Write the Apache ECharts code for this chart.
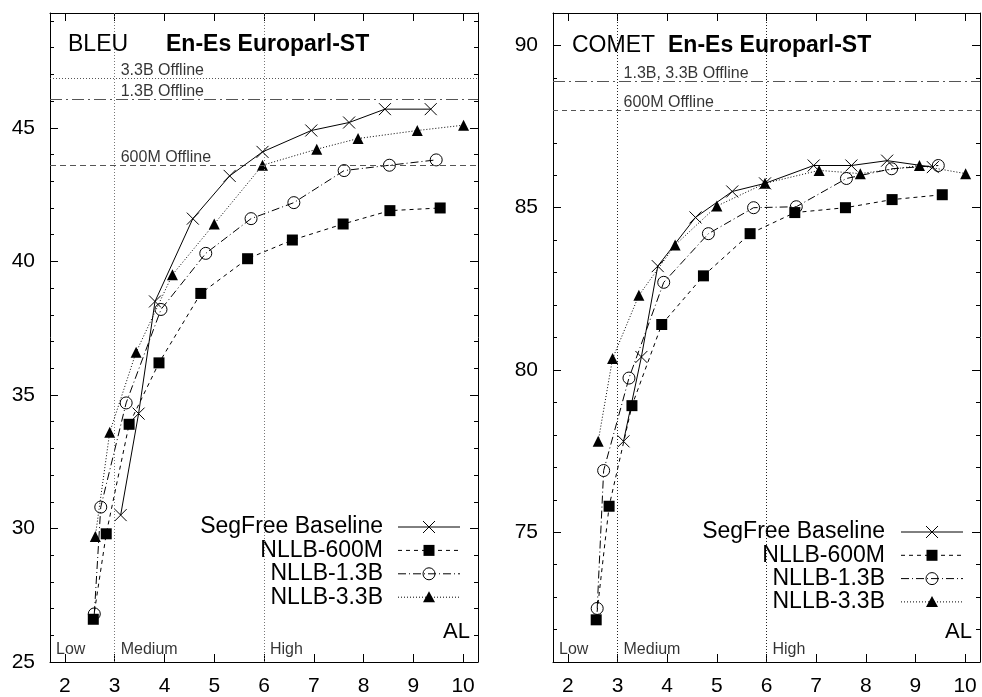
<!DOCTYPE html>
<html><head><meta charset="utf-8">
<script src="https://cdn.jsdelivr.net/npm/echarts@6/dist/echarts.min.js"></script>
<style>html,body{margin:0;padding:0;background:#fff}#c{width:982px;height:697px}</style>
</head><body><div id="c"></div>
<script>
// ---------- data ----------
const seriesNames = ['SegFree Baseline', 'NLLB-600M', 'NLLB-1.3B', 'NLLB-3.3B'];
// Average lagging (AL) of each system
const alSeg  = [3.12, 3.48, 3.81, 4.57, 5.31, 5.97, 6.95, 7.71, 8.43, 9.35];
const al600  = [2.57, 2.83, 3.29, 3.89, 4.73, 5.67, 6.57, 7.59, 8.53, 9.54];
const al13   = [2.59, 2.72, 3.23, 3.93, 4.83, 5.74, 6.60, 7.61, 8.52, 9.46];
const al33   = [2.61, 2.90, 3.43, 4.16, 5.00, 5.97, 7.06, 7.89, 9.08, 10.01];
// BLEU
const bleuSeg = [30.5, 34.3, 38.5, 41.6, 43.2, 44.1, 44.9, 45.2, 45.7, 45.7];
const bleu600 = [26.6, 29.8, 33.9, 36.2, 38.8, 40.1, 40.8, 41.4, 41.9, 42.0];
const bleu13  = [26.8, 30.8, 34.7, 38.2, 40.3, 41.6, 42.2, 43.4, 43.6, 43.8];
const bleu33  = [29.7, 33.6, 36.6, 39.5, 41.4, 43.6, 44.2, 44.6, 44.9, 45.1];
// COMET
const cometSeg = [77.8, 80.4, 83.2, 84.7, 85.5, 85.75, 86.3, 86.3, 86.45, 86.25];
const comet600 = [72.3, 75.8, 78.9, 81.4, 82.9, 84.2, 84.85, 85.0, 85.25, 85.4];
const comet13  = [72.65, 76.9, 79.75, 82.7, 84.2, 85.0, 85.03, 85.9, 86.2, 86.3];
const comet33  = [77.8, 80.35, 82.3, 83.85, 85.05, 85.75, 86.15, 86.05, 86.3, 86.05];
// offline references
const bleuOfflineNames = ['3.3B Offline', '1.3B Offline', '600M Offline'];
const bleuOffline = [46.86, 46.07, 43.59];
const cometOfflineNames = ['1.3B, 3.3B Offline', '600M Offline'];
const cometOffline = [88.9, 88.0];
// latency regions
const regionNames = ['Low', 'Medium', 'High'];
const regionStart = [1.7, 3, 6];
const regionBounds = [3, 6];
// axes
const xTicks = [2, 3, 4, 5, 6, 7, 8, 9, 10];
const bleuTicks = [25, 30, 35, 40, 45];
const bleuMinor = [26,27,28,29,31,32,33,34,36,37,38,39,41,42,43,44,46,47,48,49];
const cometTicks = [75, 80, 85, 90];
const cometMinor = [71,72,73,74,76,77,78,79,81,82,83,84,86,87,88,89,91];
const xRange = [1.7, 10.3];
const bleuRange = [25, 49.3];
const cometRange = [71, 91];

// ---------- styling ----------
const FONT = '"Liberation Sans", Arial, Helvetica, sans-serif';
const zip = (xs, ys) => xs.map((x, i) => [x, ys[i]]);
const dashes = ['solid', [4, 4], [8, 3, 1, 3], [1, 2]];
const symbols = ['path://M0,0L10,10M10,0L0,10', 'rect', 'circle', 'triangle'];
const symSizes = [12, 11, 12, 11];
const itemStyles = [
  {color: 'none', borderColor: '#000', borderWidth: 1},
  {color: '#000', borderWidth: 0},
  {color: 'none', borderColor: '#000', borderWidth: 1},
  {color: '#000', borderWidth: 0}
];

const grids = [
  {left: 50, top: 13, width: 428, height: 649},
  {left: 553, top: 13, width: 427, height: 649}
];

function xAxes(gi) {
  return [
    {gridIndex: gi, type: 'value', position: 'bottom', min: xRange[0], max: xRange[1],
     axisLine: {show: true, onZero: false, lineStyle: {color: '#000', width: 1}},
     axisTick: {show: true, inside: true, length: 8, customValues: xTicks, lineStyle: {color: '#000'}},
     axisLabel: {show: true, customValues: xTicks, margin: 14, fontSize: 21, fontFamily: FONT, color: '#000'},
     splitLine: {show: false}},
    {gridIndex: gi, type: 'value', position: 'top', min: xRange[0], max: xRange[1],
     axisLine: {show: true, onZero: false, lineStyle: {color: '#000', width: 1}},
     axisTick: {show: true, inside: true, length: 8, customValues: xTicks, lineStyle: {color: '#000'}},
     axisLabel: {show: false}, splitLine: {show: false}}
  ];
}
function yAxes(gi, range, ticks, minor) {
  const base = {gridIndex: gi, type: 'value', min: range[0], max: range[1], splitLine: {show: false}};
  return [
    Object.assign({}, base, {position: 'left',
      axisLine: {show: true, onZero: false, lineStyle: {color: '#000', width: 1}},
      axisTick: {show: true, inside: true, length: 8, customValues: ticks, lineStyle: {color: '#000'}},
      axisLabel: {show: true, customValues: ticks, margin: 15, fontSize: 21, fontFamily: FONT, color: '#000'}}),
    Object.assign({}, base, {position: 'left',
      axisLine: {show: false},
      axisTick: {show: true, inside: true, length: 4, customValues: minor, lineStyle: {color: '#000'}},
      axisLabel: {show: false}}),
    Object.assign({}, base, {position: 'right',
      axisLine: {show: true, onZero: false, lineStyle: {color: '#000', width: 1}},
      axisTick: {show: true, inside: true, length: 8, customValues: ticks, lineStyle: {color: '#000'}},
      axisLabel: {show: false}}),
    Object.assign({}, base, {position: 'right',
      axisLine: {show: false},
      axisTick: {show: true, inside: true, length: 4, customValues: minor, lineStyle: {color: '#000'}},
      axisLabel: {show: false}})
  ];
}

function dataSeries(xi, yi, ys, markLine) {
  const als = [alSeg, al600, al13, al33];
  return ys.map((vals, i) => {
    const s = {
      type: 'line', name: seriesNames[i], xAxisIndex: xi, yAxisIndex: yi,
      data: zip(als[i], vals), symbol: symbols[i], symbolSize: symSizes[i],
      lineStyle: {color: '#000', width: 1, type: dashes[i]},
      itemStyle: itemStyles[i], z: 5 - i, silent: true
    };
    if (i === 0 && markLine) s.markLine = markLine;
    return s;
  });
}

function refLines(values, types, vColor) {
  const data = values.map((v, i) => ({yAxis: v, lineStyle: {type: types[i], color: '#555', width: 1}}));
  regionBounds.forEach(x => data.push({xAxis: x, lineStyle: {type: [1, 2], color: vColor, width: 1}}));
  return {silent: true, symbol: ['none', 'none'], label: {show: false}, animation: false, data: data};
}

function labelSeries(xi, yi, pts, offsetY, fontSize) {
  return {
    type: 'scatter', xAxisIndex: xi, yAxisIndex: yi, symbolSize: 0, clip: false, silent: true,
    data: pts,
    label: {show: true, position: 'right', distance: 6, offset: [0, offsetY],
            formatter: p => p.data[2], fontSize: fontSize, fontFamily: FONT, color: '#000'}
  };
}

const bleuSeries = dataSeries(0, 0, [bleuSeg, bleu600, bleu13, bleu33],
  refLines(bleuOffline, [[1, 2], [12, 4, 2, 4], [6, 4]], '#777'));
const cometSeries = dataSeries(2, 4, [cometSeg, comet600, comet13, comet33],
  refLines(cometOffline, [[12, 4, 2, 4], [5, 4]], '#222'));

const offB = bleuOffline.map((v, i) => [3, v, bleuOfflineNames[i]]);
const offC = cometOffline.map((v, i) => [3, v, cometOfflineNames[i]]);
const regB = regionStart.map((x, i) => [x, 25.45, regionNames[i]]);
const regC = regionStart.map((x, i) => [x, 71.37, regionNames[i]]);

// ---------- legend / titles (graphic) ----------
function legend(xText, xl0, xl1, y0, dy) {
  const els = [];
  const xm = (xl0 + xl1) / 2;
  seriesNames.forEach((n, i) => {
    const y = y0 + i * dy;
    els.push({type: 'text', x: xText, y: y, style: {text: n, font: '23px ' + FONT, fill: '#000', align: 'right', verticalAlign: 'middle'}});
    els.push({type: 'line', shape: {x1: xl0, y1: y, x2: xl1, y2: y},
              style: {stroke: '#000', lineWidth: 1, lineDash: dashes[i] === 'solid' ? null : dashes[i]}});
    if (i === 0) {
      els.push({type: 'line', shape: {x1: xm - 6, y1: y - 6, x2: xm + 6, y2: y + 6}, style: {stroke: '#000', lineWidth: 1}});
      els.push({type: 'line', shape: {x1: xm - 6, y1: y + 6, x2: xm + 6, y2: y - 6}, style: {stroke: '#000', lineWidth: 1}});
    } else if (i === 1) {
      els.push({type: 'rect', shape: {x: xm - 5.5, y: y - 5.5, width: 11, height: 11}, style: {fill: '#000'}});
    } else if (i === 2) {
      els.push({type: 'circle', shape: {cx: xm, cy: y, r: 6}, style: {fill: 'none', stroke: '#000', lineWidth: 1}});
    } else {
      els.push({type: 'polygon', shape: {points: [[xm, y - 6], [xm - 6, y + 5], [xm + 6, y + 5]]}, style: {fill: '#000'}});
    }
  });
  return els;
}
function txt(x, y, t, size, weight, align) {
  return {type: 'text', x: x, y: y, z: 10,
          style: {text: t, font: (weight || 'normal') + ' ' + size + 'px ' + FONT, fill: '#000',
                  align: align || 'left', verticalAlign: 'middle'}};
}

const graphics = [].concat(
  legend(383, 398, 460, 527, 23.4),
  legend(885, 901, 963, 532, 23.3),
  [txt(68, 45, 'BLEU', 23), txt(166, 45, 'En-Es Europarl-ST', 23, 'bold'),
   txt(572, 46, 'COMET', 23), txt(668, 46, 'En-Es Europarl-ST', 23, 'bold'),
   txt(470, 632, 'AL', 22, 'normal', 'right'), txt(972, 632, 'AL', 22, 'normal', 'right')]
);

const option = {
  animation: false,
  backgroundColor: '#fff',
  grid: grids,
  xAxis: [].concat(xAxes(0), xAxes(1)),
  yAxis: [].concat(yAxes(0, bleuRange, bleuTicks, bleuMinor), yAxes(1, cometRange, cometTicks, cometMinor)),
  series: [].concat(
    bleuSeries, cometSeries,
    [labelSeries(0, 0, offB, -8, 16), labelSeries(2, 4, offC, -8, 16),
     labelSeries(0, 0, regB, 0, 16), labelSeries(2, 4, regC, 0, 16)]
  ),
  graphic: graphics
};

const chart = echarts.init(document.getElementById('c'), null, {renderer: 'canvas'});
chart.setOption(option);
</script></body></html>
